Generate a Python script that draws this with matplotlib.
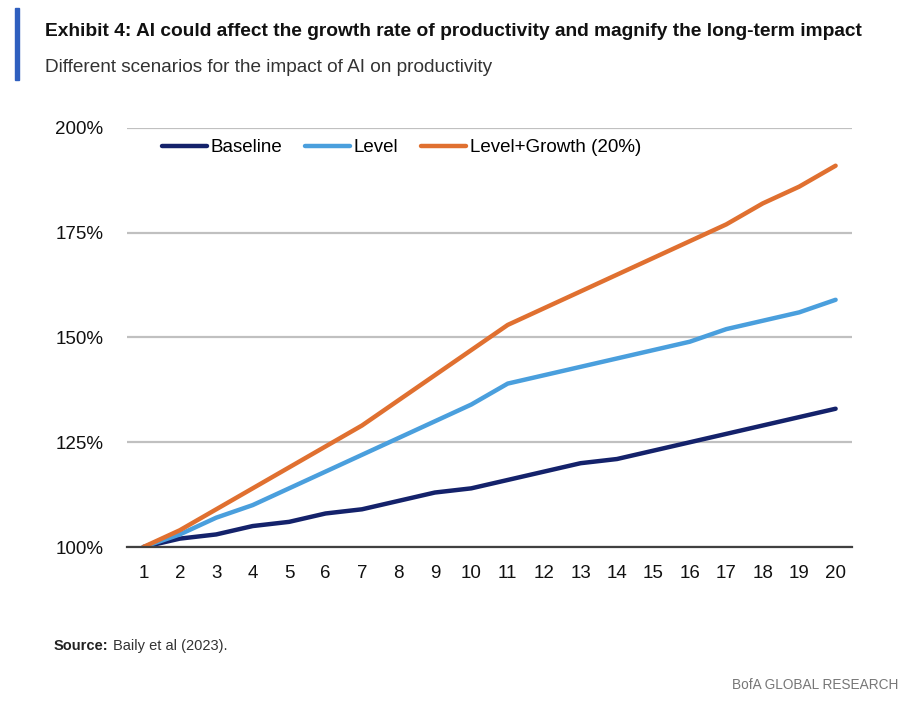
import matplotlib.pyplot as plt
from matplotlib.patches import Rectangle
from matplotlib.ticker import FuncFormatter

years = list(range(1, 21))
baseline = [100, 102, 103, 105, 106, 108, 109, 111, 113, 114,
            116, 118, 120, 121, 123, 125, 127, 129, 131, 133]
level = [100, 103, 107, 110, 114, 118, 122, 126, 130, 134,
         139, 141, 143, 145, 147, 149, 152, 154, 156, 159]
level_growth = [100, 104, 109, 114, 119, 124, 129, 135, 141, 147,
                153, 157, 161, 165, 169, 173, 177, 182, 186, 191]
series_names = ["Baseline", "Level", "Level+Growth (20%)"]
colors = ["#14226b", "#4a9fdd", "#e07030"]

plt.rcParams['font.family'] = ['Liberation Sans', 'DejaVu Sans']

fig = plt.figure(figsize=(9.16, 7.06), dpi=100)
W, H = 916, 706
ax = fig.add_axes([127 / W, 1 - 547 / H, (852 - 127) / W, (547 - 128) / H])

for vals, name, c in zip([baseline, level, level_growth], series_names, colors):
    ax.plot(years, vals, color=c, lw=3.2, label=name, solid_capstyle='round')

ax.set_xlim(0.55, 20.45)
ax.set_ylim(100, 200)
ax.set_xticks(years)
ax.set_yticks([100, 125, 150, 175, 200])
ax.yaxis.set_major_formatter(FuncFormatter(lambda v, p: f"{v:.0f}%"))
ax.grid(axis='y', color='#c0c0c0', lw=1.6)
ax.set_axisbelow(True)
for s in ['top', 'right', 'left']:
    ax.spines[s].set_visible(False)
ax.spines['bottom'].set_color('#404040')
ax.spines['bottom'].set_linewidth(1.6)
ax.tick_params(length=0, labelsize=13.5, colors='#111111')
ax.tick_params(axis='y', pad=17)
ax.tick_params(axis='x', pad=13)

ax.legend(loc='upper left', bbox_to_anchor=(0.03, 1.005), ncol=3, frameon=False,
          fontsize=13.5, handlelength=2.4, handletextpad=0.2, columnspacing=1.2,
          borderaxespad=0.3)

# header
fig.patches.append(Rectangle((15 / W, 1 - 80 / H), 4 / W, 72 / H,
                             transform=fig.transFigure, color='#2f5fbf'))
fig.text(45 / W, 1 - 30 / H,
         "Exhibit 4: AI could affect the growth rate of productivity and magnify the long-term impact",
         fontsize=13.8, fontweight='bold', va='center_baseline', ha='left', color='#111111')
fig.text(45 / W, 1 - 66 / H, "Different scenarios for the impact of AI on productivity",
         fontsize=13.7, va='center_baseline', ha='left', color='#333333')

src = fig.text(54 / W, 1 - 646 / H, "Source:", fontsize=10.5, fontweight='bold',
               va='center', ha='left', color='#222222')
fig.add_artist(plt.Annotation("Baily et al (2023).", xy=(1, 0.5), xycoords=src,
                              xytext=(3, 0), textcoords='offset points',
                              fontsize=10.5, va='center', ha='left', color='#333333'))
fig.text(898 / W, 1 - 685 / H, "BofA GLOBAL RESEARCH", fontsize=9.8,
         va='center', ha='right', color='#777777')

fig.savefig("out.png", dpi=100)
